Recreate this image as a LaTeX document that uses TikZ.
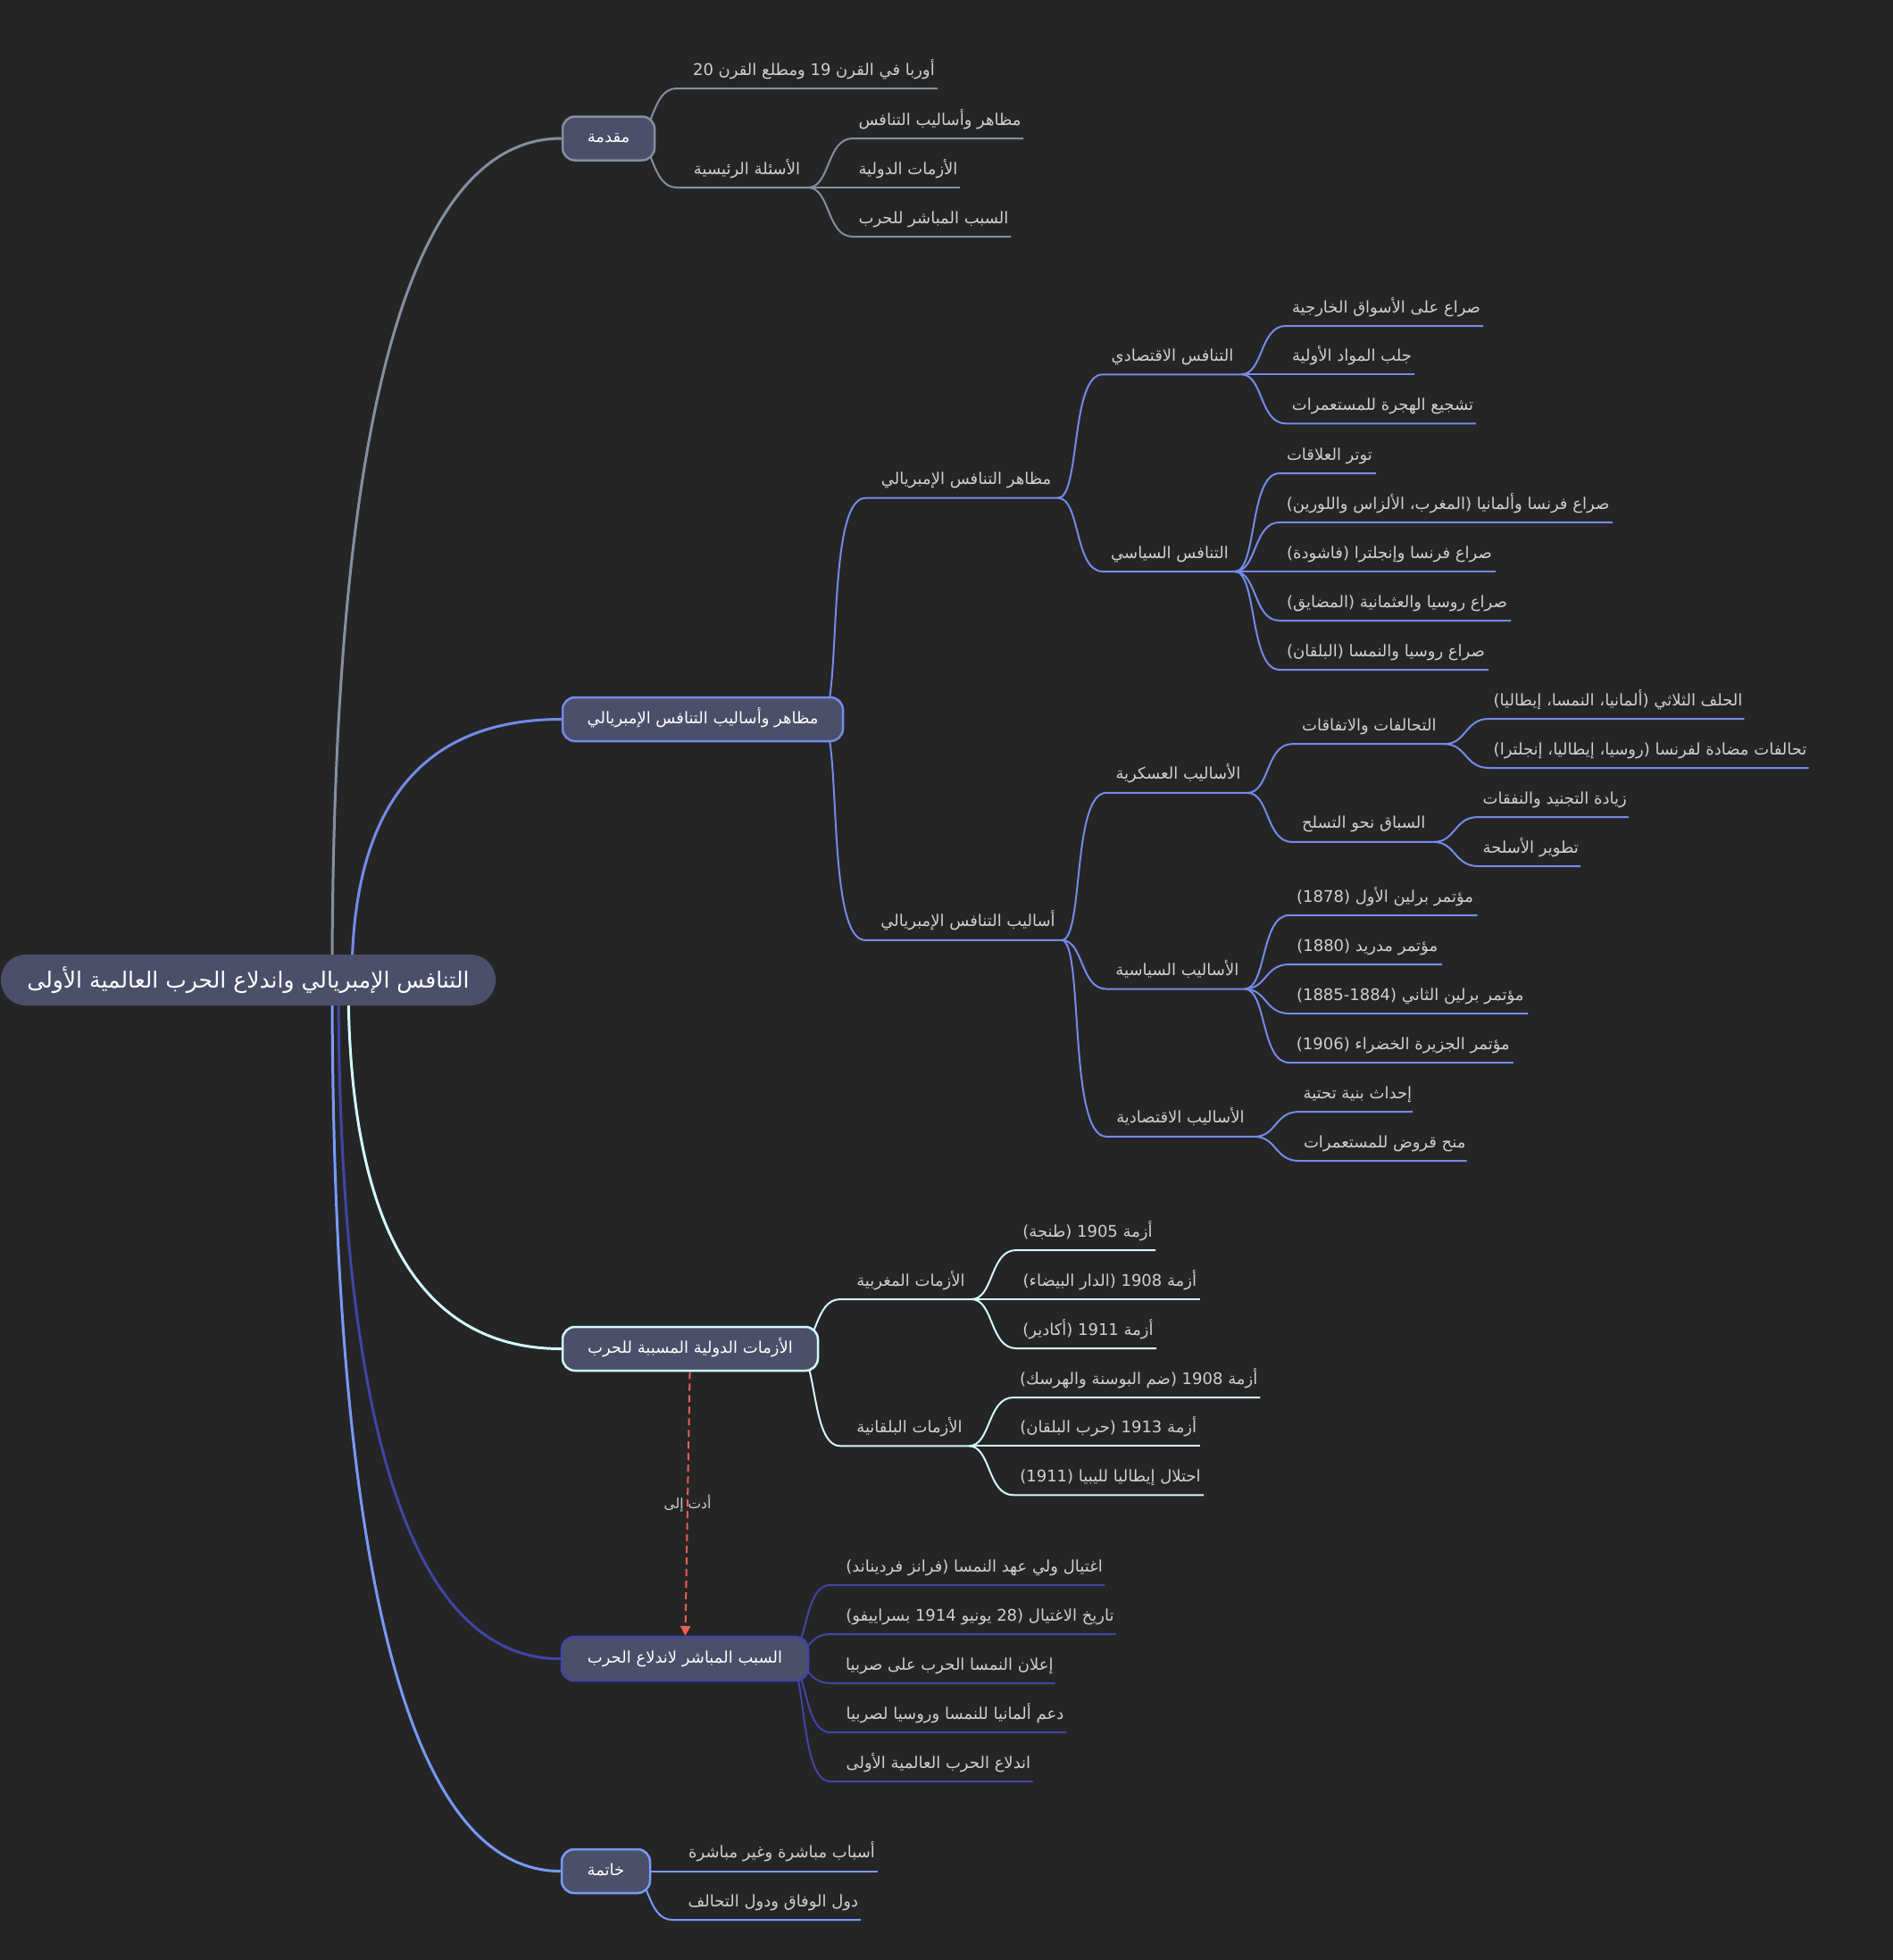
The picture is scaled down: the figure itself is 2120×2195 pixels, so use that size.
\documentclass[tikz,border=0pt]{standalone}
\usepackage{fontspec}
\usetikzlibrary{calc,arrows.meta}
\newfontfamily\arfont[Script=Arabic]{DejaVu Sans}
\TeXXeTstate=1
\definecolor{bgc}{HTML}{252526}
\definecolor{boxfill}{HTML}{4C4F69}
\definecolor{cA}{HTML}{848FA0}
\definecolor{cB}{HTML}{748BE9}
\definecolor{cC}{HTML}{D2F9FE}
\definecolor{cD}{HTML}{4145A5}
\definecolor{cE}{HTML}{789AFA}
\definecolor{subtxt}{HTML}{D0D0D0}
\definecolor{linkc}{HTML}{EB5F52}
\pgfdeclarelayer{back}\pgfdeclarelayer{lines}\pgfsetlayers{back,lines,main}
\tikzset{
 subline/.style={line width=2pt},
 mainline/.style={line width=3pt},
 txt/.style={anchor=base, inner sep=0pt, text=subtxt, font=\arfont\fontsize{18}{21}\selectfont},
 topicbox/.style={rounded corners=14pt, fill=boxfill, line width=2.5pt, inner sep=0pt, minimum height=49pt, text=white, font=\arfont\fontsize{18}{21}\selectfont, text height=13.5pt, text depth=4.5pt},
 rootbox/.style={rounded corners=28pt, fill=boxfill, inner sep=0pt, minimum width=554pt, minimum height=57pt, text=white, font=\arfont\fontsize{25}{30}\selectfont, text height=18pt, text depth=0pt},
 linkline/.style={draw=linkc, line width=2pt, dash pattern=on 8pt off 5pt, -{Triangle[width=11pt,length=11pt]}},
 linklabel/.style={text=subtxt, inner sep=0pt, font=\arfont\fontsize{15.5}{18}\selectfont}
}
% #1 parent, #2 name, #3 start x, #4 y, #5 end x, #6 colour, #7 left pad, #8 right pad, #9 text
\newcommand\nd[9]{%
 \coordinate (#2-s) at (#3,#4);
 \coordinate (#2-e) at (#5,#4);
 \begin{pgfonlayer}{lines}
 \draw[subline,draw=#6] let \p1=(#1-e), \p2=(#2-s), \n1={abs(\y2-\y1)/12} in
   (#1-e) .. controls (\x1+25,\y1) and (\x2-25-\n1,\y2) .. (#2-s) -- (#2-e);
 \end{pgfonlayer}
 \node[txt] (#2) at ({(#3+#7+#5-#8)/2},{#4-15}) {#9};
}
\newcommand\mainbr[3]{% #1 start coord, #2 box, #3 colour
 \begin{pgfonlayer}{lines}
 \draw[mainline,draw=#3] (#1) .. controls ($(#1)!0.6667!(#1|-#2.west)$) and ($(#2.west)!0.6667!(#1|-#2.west)$) .. (#2.west);
 \end{pgfonlayer}
}
\begin{document}
\begin{tikzpicture}[x=1pt,y=-1pt]
\useasboundingbox (0,0) rectangle (2120,2195);
\begin{pgfonlayer}{back}
\fill[bgc] (0,0) rectangle (2120,2195);
\end{pgfonlayer}

% root
\node[rootbox] (root) at (278,1097.5) {\beginR التنافس الإمبريالي واندلاع الحرب العالمية الأولى\endR};

% main topics
\node[topicbox, draw=cA, minimum width=103pt] (b1) at (681.5,155) {\beginR مقدمة\endR};
\node[topicbox, draw=cB, minimum width=314pt] (b2) at (787,805.5) {\beginR مظاهر وأساليب التنافس الإمبريالي\endR};
\node[topicbox, draw=cC, minimum width=286pt] (b3) at (773,1510.5) {\beginR الأزمات الدولية المسببة للحرب\endR};
\node[topicbox, draw=cD, minimum width=276pt] (b4) at (767,1857.7) {\beginR السبب المباشر لاندلاع الحرب\endR};
\node[topicbox, draw=cE, minimum width=99pt] (b5) at (678.5,2095.5) {\beginR خاتمة\endR};

\coordinate (r1) at (372,1097.5);
\coordinate (r2) at (394,1097.5);
\coordinate (r3) at (390,1097.5);
\coordinate (r4) at (379,1097.5);
\coordinate (r5) at (372,1097.5);
\mainbr{r1}{b1}{cA}
\mainbr{r2}{b2}{cB}
\mainbr{r3}{b3}{cC}
\mainbr{r4}{b4}{cD}
\mainbr{r5}{b5}{cE}

\coordinate (b1-e) at (708,155);
\coordinate (b2-e) at (919,805.5);
\coordinate (b3-e) at (891,1510.5);
\coordinate (b4-e) at (880,1857.7);
\coordinate (b5-e) at (703,2095.5);

% branch 1
\nd{b1}{c11}{758}{99}{1050}{cA}{19}{4}{\beginR أوربا في القرن 19 ومطلع القرن 20\endR}
\nd{b1}{c12}{758}{210}{905}{cA}{18}{8}{\beginR الأسئلة الرئيسية\endR}
\nd{c12}{c121}{955}{155}{1146}{cA}{8}{4}{\beginR مظاهر وأساليب التنافس\endR}
\nd{c12}{c122}{955}{210}{1075}{cA}{8}{4}{\beginR الأزمات الدولية\endR}
\nd{c12}{c123}{955}{265}{1132}{cA}{8}{4}{\beginR السبب المباشر للحرب\endR}

% branch 2
\nd{b2}{c21}{969}{557.7}{1185}{cB}{18}{8}{\beginR مظاهر التنافس الإمبريالي\endR}
\nd{c21}{c211}{1235}{419.3}{1390}{cB}{11}{10}{\beginR التنافس الاقتصادي\endR}
\nd{c211}{c2111}{1440}{365}{1661}{cB}{8}{4}{\beginR صراع على الأسواق الخارجية\endR}
\nd{c211}{c2112}{1440}{419.3}{1584}{cB}{8}{4}{\beginR جلب المواد الأولية\endR}
\nd{c211}{c2113}{1440}{474.3}{1653}{cB}{8}{4}{\beginR تشجيع الهجرة للمستعمرات\endR}
\nd{c21}{c212}{1235}{640}{1383}{cB}{10}{8}{\beginR التنافس السياسي\endR}
\nd{c212}{c2121}{1433}{530}{1541}{cB}{8}{4}{\beginR توتر العلاقات\endR}
\nd{c212}{c2122}{1433}{585}{1806}{cB}{8}{4}{\beginR صراع فرنسا وألمانيا (المغرب، الألزاس واللورين)\endR}
\nd{c212}{c2123}{1433}{640}{1675}{cB}{8}{4}{\beginR صراع فرنسا وإنجلترا (فاشودة)\endR}
\nd{c212}{c2124}{1433}{695}{1692}{cB}{8}{4}{\beginR صراع روسيا والعثمانية (المضايق)\endR}
\nd{c212}{c2125}{1433}{750}{1667}{cB}{8}{4}{\beginR صراع روسيا والنمسا (البلقان)\endR}
\nd{b2}{c22}{969}{1052.9}{1189}{cB}{18}{8}{\beginR أساليب التنافس الإمبريالي\endR}
\nd{c22}{c221}{1239}{887.9}{1397}{cB}{12}{9}{\beginR الأساليب العسكرية\endR}
\nd{c221}{c2211}{1447}{833.2}{1617.6}{cB}{14}{12}{\beginR التحالفات والاتفاقات\endR}
\nd{c2211}{c22111}{1667.6}{805}{1953.4}{cB}{6}{3}{\beginR الحلف الثلاثي (ألمانيا، النمسا، إيطاليا)\endR}
\nd{c2211}{c22112}{1667.6}{860}{2025.5}{cB}{6}{3}{\beginR تحالفات مضادة لفرنسا (روسيا، إيطاليا، إنجلترا)\endR}
\nd{c221}{c2212}{1447}{942.9}{1605.5}{cB}{14}{12}{\beginR السباق نحو التسلح\endR}
\nd{c2212}{c22121}{1655.5}{915}{1823.8}{cB}{6}{3}{\beginR زيادة التجنيد والنفقات\endR}
\nd{c2212}{c22122}{1655.5}{970}{1770}{cB}{6}{3}{\beginR تطوير الأسلحة\endR}
\nd{c22}{c222}{1239}{1107.5}{1393.7}{cB}{12}{8}{\beginR الأساليب السياسية\endR}
\nd{c222}{c2221}{1443.7}{1025}{1654.6}{cB}{8}{4}{\beginR مؤتمر برلين الأول (1878)\endR}
\nd{c222}{c2222}{1443.7}{1080}{1614.8}{cB}{8}{4}{\beginR مؤتمر مدريد (1880)\endR}
\nd{c222}{c2223}{1443.7}{1135}{1711}{cB}{8}{4}{\beginR مؤتمر برلين الثاني (1884\kern0pt-\kern0pt1885)\endR}
\nd{c222}{c2224}{1443.7}{1190}{1695}{cB}{8}{4}{\beginR مؤتمر الجزيرة الخضراء (1906)\endR}
\nd{c22}{c223}{1239}{1272.9}{1404.8}{cB}{12}{12}{\beginR الأساليب الاقتصادية\endR}
\nd{c223}{c2231}{1454.8}{1245}{1582}{cB}{8}{4}{\beginR إحداث بنية تحتية\endR}
\nd{c223}{c2232}{1454.8}{1300}{1642.6}{cB}{8}{4}{\beginR منح قروض للمستعمرات\endR}

% branch 3
\nd{b3}{c31}{941}{1455}{1088}{cC}{19}{8}{\beginR الأزمات المغربية\endR}
\nd{c31}{c311}{1138}{1400}{1294}{cC}{8}{4}{\beginR أزمة 1905 (طنجة)\endR}
\nd{c31}{c312}{1138}{1455}{1343.6}{cC}{8}{4}{\beginR أزمة 1908 (الدار البيضاء)\endR}
\nd{c31}{c313}{1138}{1510}{1295}{cC}{8}{4}{\beginR أزمة 1911 (أكادير)\endR}
\nd{b3}{c32}{941}{1619.3}{1085}{cC}{19}{8}{\beginR الأزمات البلقانية\endR}
\nd{c32}{c321}{1135}{1565}{1411.4}{cC}{8}{4}{\beginR أزمة 1908 (ضم البوسنة والهرسك)\endR}
\nd{c32}{c322}{1135}{1619.3}{1343.6}{cC}{8}{4}{\beginR أزمة 1913 (حرب البلقان)\endR}
\nd{c32}{c323}{1135}{1674.3}{1348}{cC}{8}{4}{\beginR احتلال إيطاليا لليبيا (1911)\endR}

% branch 4
\nd{b4}{c41}{930}{1775}{1237}{cD}{18}{3}{\beginR اغتيال ولي عهد النمسا (فرانز فرديناند)\endR}
\nd{b4}{c42}{930}{1830}{1250}{cD}{18}{3}{\beginR تاريخ الاغتيال (28 يونيو 1914 بسراييفو)\endR}
\nd{b4}{c43}{930}{1885}{1181.7}{cD}{18}{3}{\beginR إعلان النمسا الحرب على صربيا\endR}
\nd{b4}{c44}{930}{1940}{1194}{cD}{18}{3}{\beginR دعم ألمانيا للنمسا وروسيا لصربيا\endR}
\nd{b4}{c45}{930}{1995}{1156.7}{cD}{18}{3}{\beginR اندلاع الحرب العالمية الأولى\endR}

% branch 5
\nd{b5}{c51}{753}{2095.5}{983}{cE}{19}{4}{\beginR أسباب مباشرة وغير مباشرة\endR}
\nd{b5}{c52}{753}{2150}{963.8}{cE}{19}{4}{\beginR دول الوفاق ودول التحالف\endR}

% link
\draw[linkline] (b3) -- node[linklabel] (lnk) {\beginR أدت إلى\endR} (b4);
\end{tikzpicture}
\end{document}
